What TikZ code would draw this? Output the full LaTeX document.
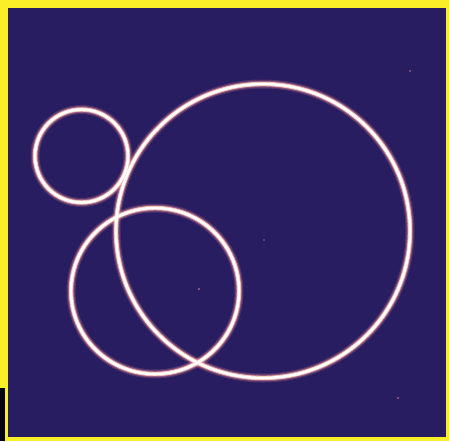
\documentclass[tikz,border=0pt]{standalone}
\definecolor{bgnavy}{RGB}{40,29,96}
\definecolor{frameyellow}{RGB}{250,238,40}
\definecolor{glowpink}{RGB}{225,130,150}
\definecolor{glowpeach}{RGB}{250,200,185}
\tikzset{
  ringhalo/.style={draw=glowpink, line width=9pt, opacity=0.22},
  ringouter/.style={draw=glowpink, line width=6.5pt, opacity=0.45},
  ringmid/.style={draw=glowpeach, line width=4.4pt, opacity=0.9},
  ringcore/.style={draw=white, line width=2.6pt},
  speck/.style={fill=glowpink, opacity=0.7}
}
\begin{document}
\begin{tikzpicture}[x=1pt,y=-1pt]
  \useasboundingbox (0,0) rectangle (449,441);
  % frame
  \fill[frameyellow] (0,0) rectangle (449,441);
  \fill[bgnavy] (8,8) rectangle (446,437);
  \fill[black!85!bgnavy] (0,388) rectangle (5,441);
  % centres
  \coordinate (cs) at (81.5,156);
  \coordinate (cb) at (263,231);
  \coordinate (cm) at (155,291);
  % glow layers
  \foreach \lay in {ringhalo,ringouter,ringmid,ringcore}{
    \draw[\lay] (cs) circle[radius=46.5];
    \draw[\lay] (cb) circle[radius=147];
    \draw[\lay] (cm) ellipse[x radius=84, y radius=83];
  }
  % faint specks
  \fill[speck] (199,289) circle[radius=1.2];
  \fill[speck] (410,71) circle[radius=1];
  \fill[speck] (398,398) circle[radius=1.2];
  \fill[speck] (264,240) circle[radius=0.8];
\end{tikzpicture}
\end{document}
